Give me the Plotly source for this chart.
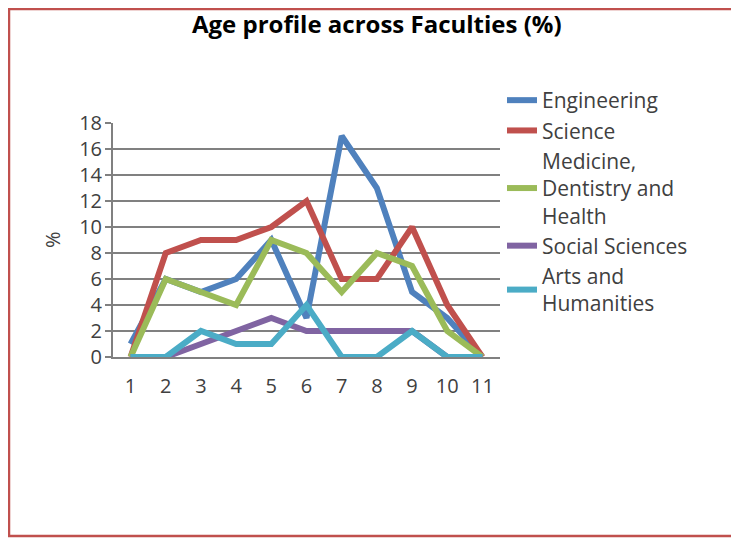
import plotly.graph_objects as go

W, H = 739, 539
OFF = 8  # page body margin offset

categories = ["1", "2", "3", "4", "5", "6", "7", "8", "9", "10", "11"]
engineering = [1, 6, 5, 6, 9, 3, 17, 13, 5, 3, 0]
science = [0, 8, 9, 9, 10, 12, 6, 6, 10, 4, 0]
medicine = [0, 6, 5, 4, 9, 8, 5, 8, 7, 2, 0]
social = [0, 0, 1, 2, 3, 2, 2, 2, 2, 0, 0]
arts = [0, 0, 2, 1, 1, 4, 0, 0, 2, 0, 0]

series_names = ["Engineering", "Science", "Medicine,<br>Dentistry and<br>Health",
                "Social Sciences", "Arts and<br>Humanities"]
series_values = [engineering, science, medicine, social, arts]
colors = ["#4F81BD", "#C0504D", "#9BBB59", "#8064A2", "#4BACC6"]
y_ticks = [0, 2, 4, 6, 8, 10, 12, 14, 16, 18]

FONT = "Open Sans"
fig = go.Figure()
for name, vals, c in zip(series_names, series_values, colors):
    fig.add_trace(go.Scatter(x=categories, y=vals, name=name, mode="lines",
                             line=dict(color=c, width=6)))


def px(v):
    return (v - OFF) / W


def py(v):
    return 1 - (v - OFF) / H


fig.update_layout(
    width=W, height=H,
    margin=dict(l=0, r=0, t=0, b=0, autoexpand=False),
    paper_bgcolor="white", plot_bgcolor="white",
    font=dict(family=FONT, color="#404040", size=20),
    showlegend=True,
    legend=dict(x=px(502), y=py(80), xanchor="left", yanchor="top",
                font=dict(family=FONT, size=21, color="#404040"),
                tracegroupgap=0, bgcolor="rgba(0,0,0,0)"),
    xaxis=dict(domain=[px(113), px(500)], type="category", automargin=False,
               range=[-0.5, 10.5], showgrid=False, showline=True,
               linecolor="#808080", linewidth=2, ticks="",
               ticklabelstandoff=10, tickfont=dict(size=20, color="#404040")),
    yaxis=dict(domain=[py(357), py(123)], range=[0, 18], tickvals=y_ticks,
               automargin=False,
               showgrid=True, gridcolor="#808080", gridwidth=2,
               showline=True, linecolor="#808080", linewidth=2,
               ticks="outside", ticklen=6, tickcolor="#808080", tickwidth=2,
               zeroline=False, ticklabelstandoff=-1,
               tickfont=dict(size=20, color="#404040")),
    annotations=[
        dict(text="<b>Age profile across Faculties (%)</b>", x=px(377), y=py(24),
             xref="paper", yref="paper", showarrow=False,
             xanchor="center", yanchor="middle",
             font=dict(family=FONT, size=24, color="#000000")),
        dict(text="%", x=px(53), y=py(240), xref="paper", yref="paper",
             showarrow=False, textangle=-90, xanchor="center", yanchor="middle",
             font=dict(family=FONT, size=20, color="#404040")),
    ],
    shapes=[
        dict(type="rect", xref="paper", yref="paper",
             x0=px(9), x1=px(760), y0=py(536), y1=py(9),
             line=dict(color="#C0504D", width=2.5), fillcolor="rgba(0,0,0,0)"),
    ],
)

fig.write_html("out.html")
